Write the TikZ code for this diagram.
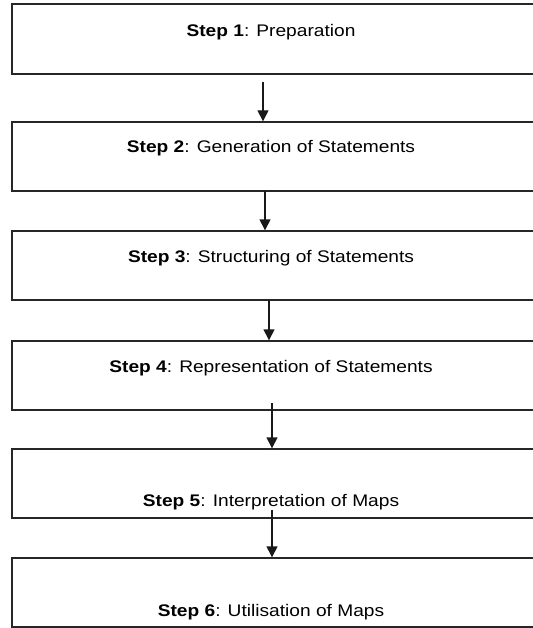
\documentclass[tikz,border=0pt]{standalone}
\usepackage{fontspec}
\setmainfont{Liberation Sans}
\usetikzlibrary{arrows.meta}
\tikzset{
  stepbox/.style={draw=black!85, line width=1.4pt, rectangle, inner sep=0pt,
    minimum width=521.5pt, minimum height=69pt},
  steptext/.style={anchor=base, inner sep=0pt, font=\fontsize{16.8}{19}\selectfont},
  flow/.style={draw=black!90, line width=1.4pt, -{Triangle[length=11pt,width=11pt]}}
}
\newcommand{\steplabel}[2]{\scalebox{1.14}[1]{\textbf{Step #1}: #2}}
\begin{document}
\begin{tikzpicture}[x=1pt,y=-1pt]
\useasboundingbox (0,0) rectangle (532,628);
\node[stepbox, minimum height=70pt] (b1) at (272.75,39) {};
\node[stepbox] (b2) at (272.75,156.5) {};
\node[stepbox] (b3) at (272.75,265.5) {};
\node[stepbox] (b4) at (272.75,375.5) {};
\node[stepbox] (b5) at (272.75,483.5) {};
\node[stepbox] (b6) at (272.75,592.5) {};
\node[steptext] (t1) at (271,37) {\steplabel{1}{Preparation}};
\node[steptext] (t2) at (271,152.5) {\steplabel{2}{Generation of Statements}};
\node[steptext] (t3) at (271,262.5) {\steplabel{3}{Structuring of Statements}};
\node[steptext] (t4) at (271,372.5) {\steplabel{4}{Representation of Statements}};
\node[steptext] (t5) at (271,506.5) {\steplabel{5}{Interpretation of Maps}};
\node[steptext] (t6) at (271,616) {\steplabel{6}{Utilisation of Maps}};
\coordinate (s1) at (263,82);
\coordinate (s2) at (265,191);
\coordinate (s3) at (269,300);
\coordinate (s4) at (272,403);
\coordinate (s5) at (272,510);
\draw[flow] (s1) -- (s1 |- b2.north);
\draw[flow] (s2) -- (s2 |- b3.north);
\draw[flow] (s3) -- (s3 |- b4.north);
\draw[flow] (s4) -- (s4 |- b5.north);
\draw[flow] (s5) -- (s5 |- b6.north);
\end{tikzpicture}
\end{document}
